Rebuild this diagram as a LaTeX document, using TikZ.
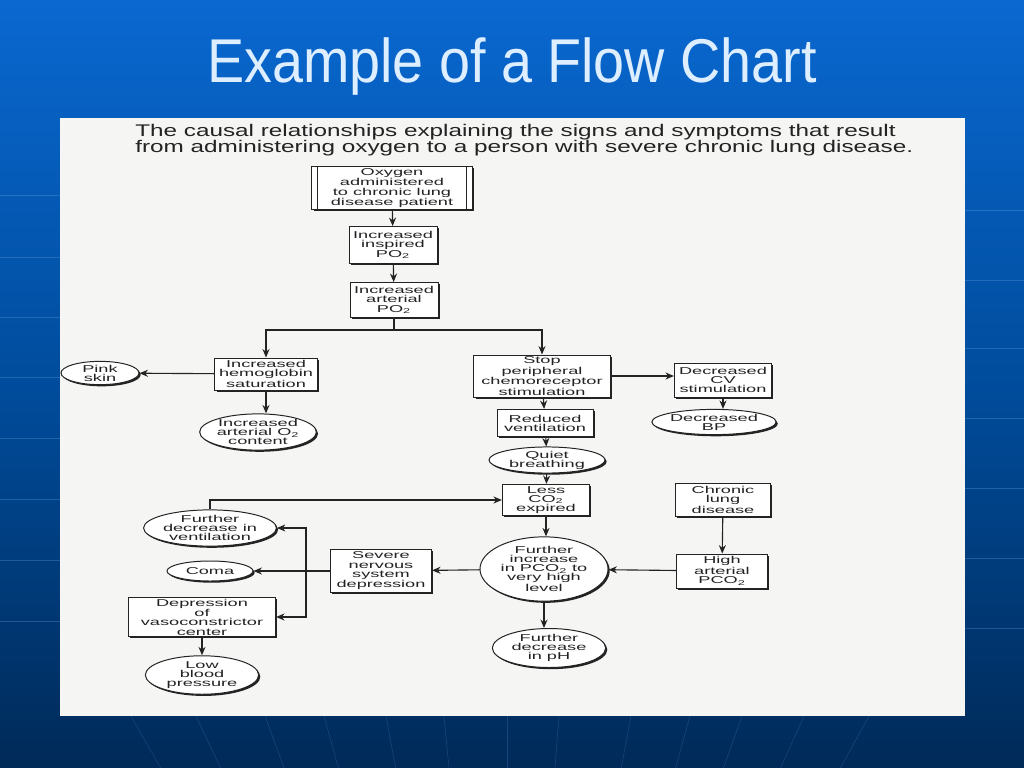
\documentclass[tikz,border=0pt]{standalone}
\usepackage{fontspec}
\usepackage{tikz}
\usetikzlibrary{positioning,shapes.geometric,arrows.meta,shadows,calc}
\setmainfont{Liberation Sans}
\newfontfamily\chartfont[FakeStretch=1.82]{Liberation Sans}
\newfontfamily\headfont[FakeStretch=1.44]{Liberation Sans}
\newfontfamily\titlefont[FakeStretch=0.9]{Liberation Sans}
\definecolor{slideblue}{RGB}{10,104,208}
\definecolor{slidemid}{RGB}{0,76,156}
\definecolor{slidedark}{RGB}{0,42,88}
\definecolor{titletext}{RGB}{220,238,255}
\definecolor{paper}{RGB}{245,245,244}
\definecolor{ink}{RGB}{35,35,35}
\tikzset{
  stepbox/.style={draw=ink,fill=white,line width=0.7pt,inner sep=0pt,align=center,
    font=\chartfont\fontsize{7.1}{6.5}\selectfont,text=ink,
    drop shadow={shadow xshift=1.2pt,shadow yshift=-1.2pt,fill=ink,opacity=1}},
  effect/.style={stepbox,ellipse},
  flow/.style={draw=ink,line width=0.8pt,-{Stealth[length=6pt,width=5pt]}},
  wire/.style={draw=ink,line width=0.8pt}
}

\begin{document}
\begin{tikzpicture}[x=0.025cm,y=-0.025cm]
  \useasboundingbox (0,0) rectangle (1024,768);
  \shade[top color=slideblue,bottom color=slidedark,middle color=slidemid] (0,0) rectangle (1024,768);
  \foreach \y in {195,257,317,377,438,499,560,621}
    \draw[slideblue!60!white,opacity=.3] (0,\y) -- (60,\y);
  \foreach \y in {210,280,348,418,488,558,628}
    \draw[slideblue!60!white,opacity=.3] (965,\y) -- (1024,\y);
  \foreach \x in {131,196,265,324,386,444,507,559,631,690,742,804,869}
    \draw[slideblue!70!white,opacity=.25] (\x,716) -- ({\x+(507-\x)*0.079},768);
  \fill[paper] (60,118) rectangle (965,716);

  \node[text=titletext,font=\titlefont\fontsize{44}{48}\selectfont] (title) at (512,67) {Example of a Flow Chart};

  \node[anchor=north west,align=left,inner sep=0pt,text=ink,font=\headfont\fontsize{12}{11.3}\selectfont]
    (caption) at (135,124) {The causal relationships explaining the signs and symptoms that result\\
    from administering oxygen to a person with severe chronic lung disease.};

  \node[stepbox,minimum width=4cm,minimum height=1.075cm] (oxygen) at (392,188)
    {Oxygen\\administered\\to chronic lung\\disease patient};
  \draw[wire] ([xshift=0.15cm]oxygen.north west) -- ([xshift=0.15cm]oxygen.south west);
  \draw[wire] ([xshift=-0.15cm]oxygen.north east) -- ([xshift=-0.15cm]oxygen.south east);
  \node[stepbox,minimum width=2.2cm,minimum height=0.925cm] (inspired) at (393,245)
    {Increased\\inspired\\PO\textsubscript{2}};
  \node[stepbox,minimum width=2.2cm,minimum height=0.875cm] (arterial) at (394,300)
    {Increased\\arterial\\PO\textsubscript{2}};
  \node[stepbox,minimum width=2.55cm,minimum height=0.8cm] (hemo) at (266,374)
    {Increased\\hemoglobin\\saturation};
  \node[effect,minimum width=1.95cm,minimum height=0.575cm] (pink) at (100,373) {Pink\\skin};
  \node[effect,minimum width=2.4cm,minimum height=0.9cm] (o2content) at (258,432)
    {Increased\\arterial O\textsubscript{2}\\content};
  \node[stepbox,minimum width=3.4cm,minimum height=1.05cm] (stop) at (542,376)
    {Stop\\peripheral\\chemoreceptor\\stimulation};
  \node[stepbox,minimum width=2.43cm,minimum height=0.85cm] (cvstim) at (723,380)
    {Decreased\\CV\\stimulation};
  \node[effect,minimum width=2.6cm,minimum height=0.63cm] (lowbpcv) at (714,422) {Decreased\\BP};
  \node[stepbox,minimum width=2.4cm,minimum height=0.68cm] (reduced) at (545,423)
    {Reduced\\ventilation};
  \node[effect,minimum width=2.9cm,minimum height=0.55cm] (quiet) at (547,460) {Quiet\\breathing};
  \node[stepbox,minimum width=2.18cm,minimum height=0.78cm] (lessco2) at (546,500)
    {Less\\CO\textsubscript{2}\\expired};
  \node[stepbox,minimum width=2.38cm,minimum height=0.83cm] (chronic) at (723,500)
    {Chronic\\lung\\disease};
  \node[stepbox,minimum width=2.28cm,minimum height=0.85cm] (highpco2) at (722,571)
    {High\\arterial\\PCO\textsubscript{2}};
  \node[effect,minimum width=3.2cm,minimum height=1.45cm] (risepco2) at (544,569)
    {Further\\increase\\in PCO\textsubscript{2} to\\very high\\level};
  \node[effect,minimum width=2.83cm,minimum height=0.9cm] (lowph) at (549,648)
    {Further\\decrease\\in pH};
  \node[stepbox,minimum width=2.53cm,minimum height=1.08cm] (severe) at (381,571)
    {Severe\\nervous\\system\\depression};
  \node[effect,minimum width=3.18cm,minimum height=0.88cm] (lessvent) at (210,528)
    {Further\\decrease in\\ventilation};
  \node[effect,minimum width=2.15cm,minimum height=0.5cm] (coma) at (210,571) {Coma};
  \node[stepbox,minimum width=3.68cm,minimum height=0.98cm] (vaso) at (202,617)
    {Depression\\of\\vasoconstrictor\\center};
  \node[effect,minimum width=2.83cm,minimum height=0.9cm] (lowbp) at (202,675)
    {Low\\blood\\pressure};

  \coordinate (split) at (394,330);
  \coordinate (bus) at (306,571);

  \draw[flow] (oxygen) -- (inspired);
  \draw[flow] (inspired) -- (arterial);
  \draw[wire] (arterial) -- (split);
  \draw[flow] (split) -| (hemo.north);
  \draw[flow] (split) -| (stop.north);
  \draw[flow] (hemo) -- (pink);
  \draw[flow] (hemo) -- (hemo |- o2content.north);
  \draw[flow] (stop.east) -- (stop.east -| cvstim.west);
  \draw[flow] (cvstim) -- (cvstim |- lowbpcv.north);
  \draw[flow] (stop) -- (reduced);
  \draw[flow] (reduced) -- (quiet);
  \draw[flow] (quiet) -- (lessco2);
  \draw[flow] (lessvent.north) |- (lessco2.west);
  \draw[flow] (lessco2) -- (lessco2 |- risepco2.north);
  \draw[flow] (chronic) -- (highpco2);
  \draw[flow] (highpco2) -- (risepco2);
  \draw[flow] (risepco2) -- (severe);
  \draw[flow] (risepco2) -- (risepco2 |- lowph.north);
  \draw[flow] (severe) -- (coma);
  \draw[flow] (bus) |- (lessvent.east);
  \draw[flow] (bus) |- (vaso.east);
  \draw[flow] (vaso) -- (vaso |- lowbp.north);
\end{tikzpicture}
\end{document}
